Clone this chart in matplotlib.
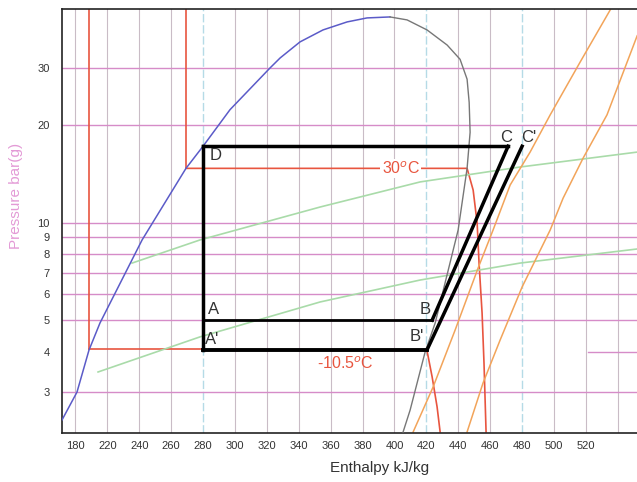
import matplotlib
matplotlib.use('Agg')
import matplotlib.pyplot as plt

plt.rcParams['font.family'] = ['Liberation Sans', 'DejaVu Sans']

# saturation dome, liquid side (enthalpy kJ/kg, pressure bar)
liq_h = [191.6, 201.0, 208.5, 215.4, 241.8, 269.3, 280.0, 296.9, 322.0, 328.3, 340.8, 355.2, 370.3, 382.8, 397.2]
liq_p = [2.46, 3.0, 4.04, 4.90, 8.84, 14.7, 17.2, 22.3, 30.0, 32.2, 36.1, 39.3, 41.6, 42.8, 43.1]
# vapour side
vap_h = [397.2, 407.9, 420.4, 433.0, 441.1, 445.5, 446.8, 447.4, 445.5, 439.9, 425.5, 419.2, 409.8, 405.4]
vap_p = [43.1, 42.2, 39.3, 35.3, 31.9, 27.7, 23.5, 19.0, 14.7, 9.49, 4.90, 3.99, 2.64, 2.26]

# isotherms (red)
t30_h = [269.3, 445.5, 449.3, 451.8, 453.0, 454.9, 456.1, 457.4]
t30_p = [14.7, 14.7, 12.6, 9.97, 7.50, 5.26, 3.69, 2.26]
tm10_h = [420.4, 423.6, 426.7, 428.6]
tm10_p = [4.02, 3.34, 2.70, 2.26]

# green lines
g1_h = [235.5, 278.1, 353.4, 416.1, 478.7, 552.1]
g1_p = [7.50, 8.84, 11.17, 13.35, 14.84, 16.5]
g2_h = [214.2, 278.1, 353.4, 416.1, 478.7, 552.1]
g2_p = [3.46, 4.44, 5.69, 6.65, 7.50, 8.29]

# orange lines
o1_h = [411.7, 424.2, 438.0, 452.4, 461.8, 472.5, 485.0, 497.6, 516.4, 535.2]
o1_p = [2.26, 3.11, 4.66, 7.24, 9.49, 13.06, 16.5, 21.5, 31.3, 45.3]
o2_h = [445.5, 455.5, 466.2, 480.0, 497.6, 505.7, 518.2, 533.2, 552.1]
o2_p = [2.26, 3.20, 4.34, 6.33, 9.49, 11.9, 15.8, 21.5, 37.7]

# cycle points
h_D, p_D = 280, 17.2
h_C, h_Cp = 471.2, 480.0
h_B, p_B = 423.6, 5.0
h_Bp, p_Bp = 420.4, 4.05
p_A, p_Ap = 5.0, 4.05

y_ticks = [3, 4, 5, 6, 7, 8, 9, 10, 20, 30]
x_ticks = [200, 220, 240, 260, 280, 300, 320, 340, 360, 380, 400, 420, 440, 460, 480, 500, 520]
x_labels = ['180', '220', '240', '260', '280', '300', '320', '340', '360', '380',
            '400', '420', '440', '460', '480', '500', '520']
grid_h = list(range(200, 541, 20))
blue_h = [280, 420, 480]

fig = plt.figure(figsize=(6.37, 4.82), dpi=100)
ax = fig.add_axes([62/637, 1 - 433/482, 1 - 62/637, (433 - 9)/482])
ax.set_yscale('log')
ax.set_xlim(191.6, 552)
ax.set_ylim(2.243, 45.6)

pink = '#d68cc8'
for h in grid_h:
    if h in blue_h:
        ax.axvline(h, color='#b5dbe6', lw=1.0, ls=(0, (6, 2)), zorder=1)
    else:
        ax.axvline(h, color='#c9bcc6', lw=0.8, zorder=1)
for p in y_ticks:
    if p == 4:
        ax.plot([521, 552], [4, 4], color=pink, lw=1.0, zorder=1)
    else:
        ax.axhline(p, color=pink, lw=1.0, zorder=1)

red = '#e8553f'
ax.plot([208.5, 208.5], [4.08, 45.6], color=red, lw=1.2, zorder=2)
ax.plot([208.5, 280], [4.08, 4.08], color=red, lw=1.2, zorder=2)
ax.plot([269.3, 269.3], [14.7, 45.6], color=red, lw=1.2, zorder=2)
ax.plot(t30_h, t30_p, color=red, lw=1.2, zorder=2)
ax.plot(tm10_h, tm10_p, color=red, lw=1.2, zorder=2)

ax.plot(g1_h, g1_p, color='#a9dba9', lw=1.2, zorder=2)
ax.plot(g2_h, g2_p, color='#a9dba9', lw=1.2, zorder=2)
ax.plot(o1_h, o1_p, color='#f2a45a', lw=1.1, zorder=2)
ax.plot(o2_h, o2_p, color='#f2a45a', lw=1.1, zorder=2)

ax.plot(liq_h, liq_p, color='#5b5bc8', lw=1.1, zorder=3)
ax.plot(vap_h, vap_p, color='#777777', lw=1.0, zorder=3)

# refrigeration cycle
k = 'black'
ax.plot([h_D, h_C], [p_D, p_D], color=k, lw=2.5, zorder=4)
ax.plot([h_D, h_D], [p_D, p_Ap], color=k, lw=2.5, zorder=4)
ax.plot([h_D, h_B], [p_A, p_B], color=k, lw=2.0, zorder=4)
ax.plot([h_D, h_Bp], [p_Ap, p_Bp], color=k, lw=2.8, zorder=4)
ax.plot([h_B, h_C], [p_B, p_D], color=k, lw=2.5, zorder=4)
ax.plot([h_Bp, h_Cp], [p_Bp, p_D], color=k, lw=2.5, zorder=4)

lab = dict(fontsize=12, color='#333333', zorder=5)
ax.text(284, 16.1, 'D', va='center', ha='left', **lab)
ax.text(470, 18.3, 'C', va='center', ha='center', **lab)
ax.text(484, 18.3, "C'", va='center', ha='center', **lab)
ax.text(283, 5.4, 'A', va='center', ha='left', **lab)
ax.text(281, 4.36, "A'", va='center', ha='left', **lab)
ax.text(419, 5.38, 'B', va='center', ha='center', **lab)
ax.text(414, 4.45, "B'", va='center', ha='center', **lab)

ax.text(404, 14.7, '30$^{o}$C', color=red, fontsize=11.5, ha='center', va='center', zorder=5,
        bbox=dict(facecolor='white', edgecolor='none', pad=1))
ax.text(369, 3.68, '-10.5$^{o}$C', color=red, fontsize=11.5, ha='center', va='center', zorder=5)

ax.set_yticks(y_ticks)
ax.set_yticklabels([str(v) for v in y_ticks])
ax.yaxis.set_minor_locator(matplotlib.ticker.NullLocator())
ax.set_xticks(x_ticks)
ax.set_xticklabels(x_labels)
ax.tick_params(length=0, labelsize=8, colors='#333333')
ax.tick_params(axis='y', pad=9)
ax.tick_params(axis='x', pad=6)

for s in ['top', 'bottom', 'left']:
    ax.spines[s].set_color('#222222')
    ax.spines[s].set_linewidth(1.2)
ax.spines['right'].set_visible(False)

fig.text(380/637, 1 - 468/482, 'Enthalpy kJ/kg', fontsize=11, color='#333333', ha='center', va='center')
fig.text(16/637, 1 - 196/482, 'Pressure bar(g)', fontsize=11, color='#e39ad6', rotation=90,
         ha='center', va='center')

fig.savefig('out.png', dpi=100)
